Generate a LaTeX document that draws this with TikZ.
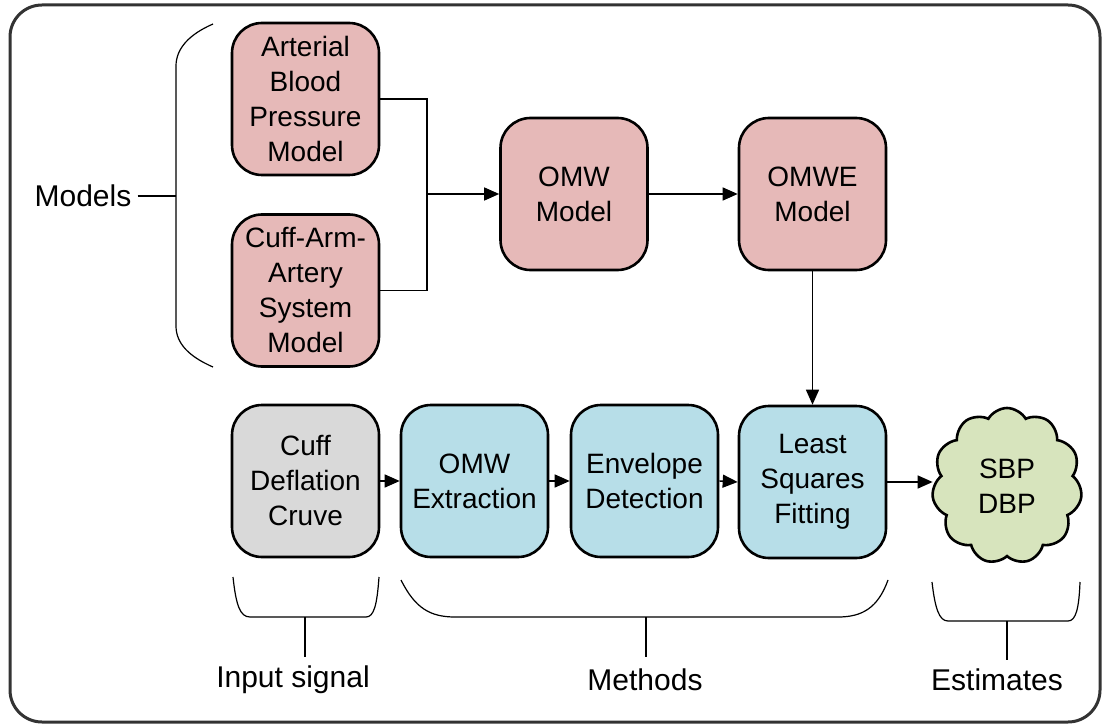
\documentclass[tikz,border=0pt]{standalone}
\usepackage{fontspec}
\setmainfont{Liberation Sans}
\usetikzlibrary{arrows.meta,shapes.symbols}

\definecolor{modelfill}{HTML}{E6B9B8}
\definecolor{methodfill}{HTML}{B7DEE8}
\definecolor{inputfill}{HTML}{D9D9D9}
\definecolor{estfill}{HTML}{D7E4BD}
\definecolor{framecol}{HTML}{333333}

\tikzset{
  stage/.style={draw=black, line width=2.6pt, rounded corners=30pt,
    minimum width=147pt, text width=140pt, align=center, inner sep=0pt,
    minimum height=152pt, font=\fontsize{28}{35}\selectfont},
  models/.style={stage, fill=modelfill},
  methods/.style={stage, fill=methodfill},
  flow/.style={line width=1.4pt, -{Triangle[length=15pt,width=13pt]}},
  link/.style={line width=1.4pt},
  bracket/.style={line width=1.2pt},
  caption/.style={font=\fontsize{30}{36}\selectfont, inner sep=0pt}
}

\begin{document}
\begin{tikzpicture}[x=1pt,y=-1pt]
\useasboundingbox (0,0) rectangle (1105,727);

% outer frame
\draw[framecol, line width=3pt, rounded corners=32pt] (10,5) rectangle (1100,722);

% model row
\node[models] (abp) at (305.5,99)  {Arterial\\Blood\\Pressure\\Model};
\node[models] (caa) at (305.5,290.5) {Cuff-Arm-\\Artery\\System\\Model};
\node[models] (omw) at (574,194) {OMW\\Model};
\node[models] (omwe) at (812.5,194) {OMWE\\Model};

% processing row
\node[stage, fill=inputfill] (cuff) at (305.5,481) {Cuff\\Deflation\\Cruve};
\node[methods] (ext) at (474.5,481) {OMW\\Extraction};
\node[methods] (env) at (644.5,481) {Envelope\\Detection};
\node[methods] (lsq) at (812.5,482) {Least\\Squares\\Fitting};
\node[cloud, cloud puffs=11, cloud puff arc=120, draw=black,
      line width=2.6pt, fill=estfill, minimum width=150pt, minimum height=156pt,
      inner sep=0pt, align=center, font=\fontsize{28}{35}\selectfont]
      (est) at (1007,486) {SBP\\DBP};

% connectors
\coordinate (join) at (427,194);
\draw[link] (abp.east) -- (abp.east -| join) -- (caa.east -| join) -- (caa.east);
\draw[flow] (join) -- (omw.west);
\draw[flow] (omw.east) -- (omwe.west);
\draw[flow] (omwe.south) -- (lsq.north);
\draw[flow] (cuff.east) -- (ext.west);
\draw[flow] (ext.east) -- (env.west);
\draw[flow] (env.east) -- (lsq.west);
\draw[flow] (lsq.east) -- (lsq.east -| est.west);

% group labels
\node[caption] (mlab) at (83,196) {Models};
\coordinate (mtip) at (176,196);
\draw[bracket] (213,24) .. controls (190,34) and (176,48) .. (176,66)
  -- (176,326) .. controls (176,344) and (190,357) .. (213,367);
\draw[link] (mlab.east) ++(6pt,0) -- (mtip);

\node[caption] (ilab) at (293,680) {Input signal};
\node[caption] (hlab) at (645,680) {Methods};
\node[caption] (elab) at (997,680) {Estimates};

\coordinate (itop) at (305,617);
\coordinate (htop) at (646,617);
\coordinate (etop) at (1007,621);

\draw[bracket] (233,577) .. controls (236,605) and (240,617) .. (250,617)
  -- (366,617) .. controls (374,617) and (377,605) .. (379,577);
\draw[bracket] (401,580) .. controls (415,608) and (430,617) .. (455,617)
  -- (838,617) .. controls (862,617) and (878,608) .. (888,580);
\draw[bracket] (932,582) .. controls (935,608) and (939,621) .. (948,621)
  -- (1068,621) .. controls (1076,621) and (1079,608) .. (1080,582);

\draw[link] (itop) -- ++(0,40);
\draw[link] (htop) -- ++(0,40);
\draw[link] (etop) -- ++(0,39);
\end{tikzpicture}
\end{document}
